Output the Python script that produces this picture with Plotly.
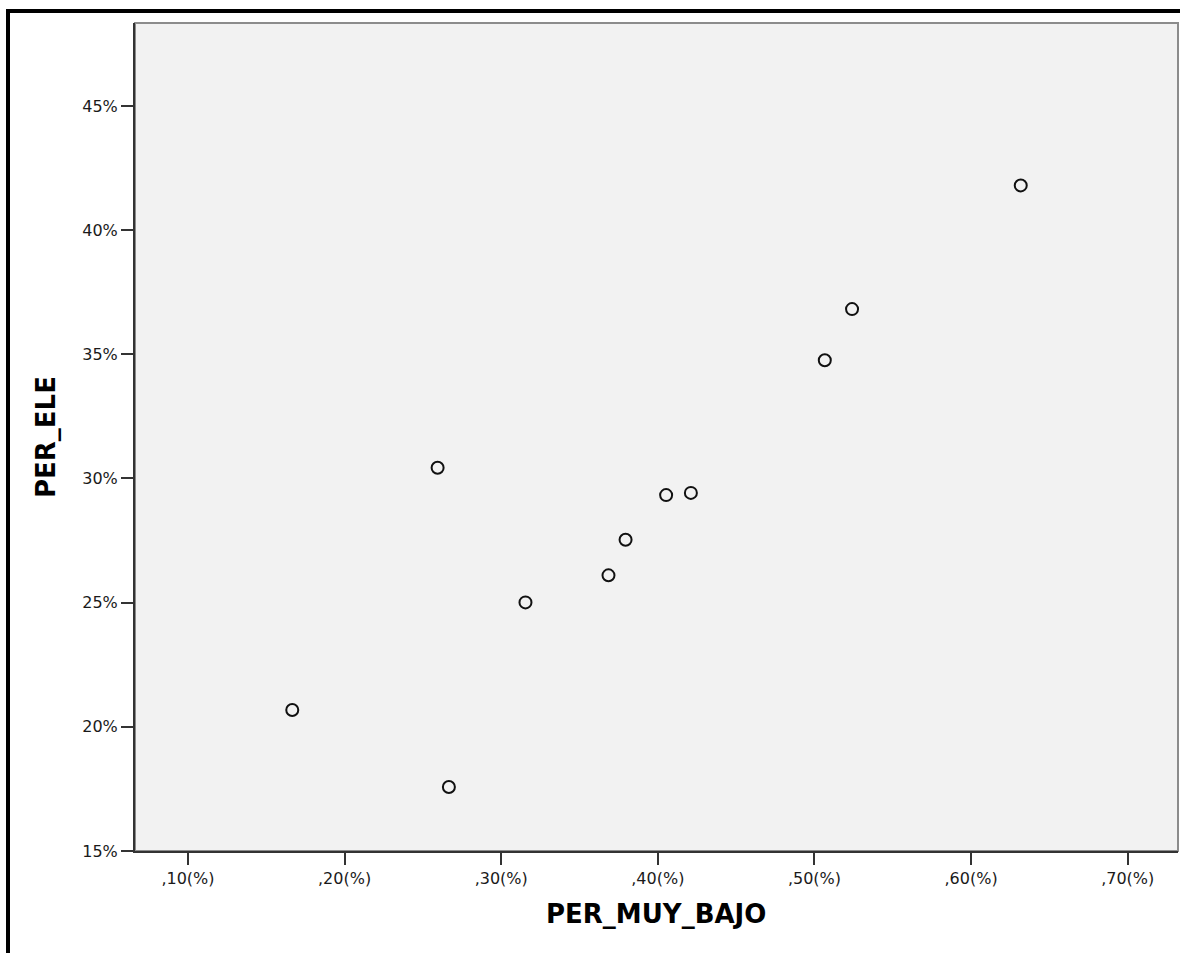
import plotly.graph_objects as go

# Share of "muy bajo" (x) versus share of ELE (y), one point per unit
per_muy_bajo = [0.1666, 0.2666, 0.2594, 0.3155, 0.3685, 0.3794,
                0.4053, 0.4211, 0.5066, 0.5240, 0.6317]
per_ele = [0.2068, 0.1758, 0.3043, 0.2501, 0.2610, 0.2753,
           0.2933, 0.2942, 0.3476, 0.3682, 0.4180]

x_tick_vals = [0.10, 0.20, 0.30, 0.40, 0.50, 0.60, 0.70]
x_tick_text = [",10(%)", ",20(%)", ",30(%)", ",40(%)", ",50(%)", ",60(%)", ",70(%)"]
y_tick_vals = [0.15, 0.20, 0.25, 0.30, 0.35, 0.40, 0.45]
y_tick_text = ["15%", "20%", "25%", "30%", "35%", "40%", "45%"]

W, H = 1180, 953
ML, MR, MT, MB = 135, 2, 23, 102
PW, PH = W - ML - MR, H - MT - MB


def px_x(px):
    return (px - ML) / PW


def px_y(py):
    return (H - MB - py) / PH


fig = go.Figure(
    go.Scatter(
        x=per_muy_bajo,
        y=per_ele,
        mode="markers",
        marker=dict(symbol="circle", size=12, color="rgba(0,0,0,0)",
                    line=dict(color="#111111", width=2)),
        hoverinfo="x+y",
    )
)

axis_common = dict(
    showgrid=False,
    zeroline=False,
    showline=True,
    linecolor="#333333",
    linewidth=2,
    ticks="outside",
    ticklen=12,
    tickwidth=2,
    tickcolor="#333333",
    tickfont=dict(family="DejaVu Sans", size=16, color="#1a1a1a"),
)

fig.update_xaxes(range=[0.0662, 0.7321], tickvals=x_tick_vals,
                 ticktext=x_tick_text, **axis_common)
fig.update_yaxes(range=[0.15, 0.4834], tickvals=y_tick_vals,
                 ticktext=y_tick_text, **axis_common)

fig.update_layout(
    width=W,
    height=H,
    margin=dict(l=ML, r=MR, t=MT, b=MB, pad=0),
    paper_bgcolor="white",
    plot_bgcolor="#f2f2f2",
    showlegend=False,
    shapes=[
        # lighter frame on top and right of the plot area
        dict(type="rect", xref="paper", yref="paper", x0=0, y0=0, x1=1, y1=1,
             line=dict(color="#8c8c8c", width=2), layer="below"),
        # heavy outer frame
        dict(type="line", xref="paper", yref="paper",
             x0=px_x(8), x1=px_x(8), y0=px_y(10), y1=px_y(H + 10),
             line=dict(color="black", width=4)),
        dict(type="line", xref="paper", yref="paper",
             x0=px_x(6), x1=px_x(W + 10), y0=px_y(11), y1=px_y(11),
             line=dict(color="black", width=4)),
    ],
    annotations=[
        dict(text="<b>PER_MUY_BAJO</b>", xref="paper", yref="paper",
             x=px_x(656), y=px_y(914), xanchor="center", yanchor="middle",
             showarrow=False,
             font=dict(family="DejaVu Sans", size=26, color="black")),
        dict(text="<b>PER_ELE</b>", xref="paper", yref="paper",
             x=px_x(46), y=px_y(437), xanchor="center", yanchor="middle",
             textangle=-90, showarrow=False,
             font=dict(family="DejaVu Sans", size=26, color="black")),
    ],
)

fig.write_html("out.html")
